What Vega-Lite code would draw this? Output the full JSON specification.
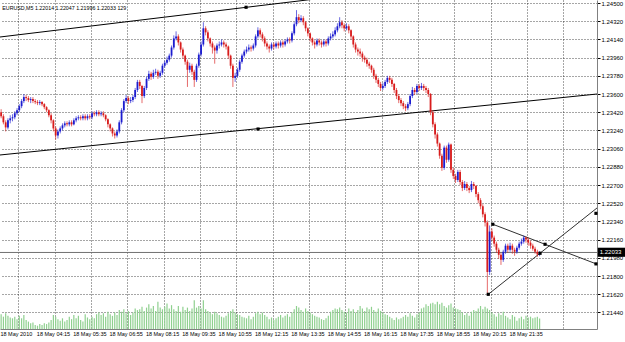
{
"$schema": "https://vega.github.io/schema/vega-lite/v6.json",
"width": 597, "height": 329,
"autosize": {"type": "none"},
"padding": {"left": 0, "top": 0, "right": 28, "bottom": 13},
"background": "white",
"config": {"view": {"stroke": null}, "font": "Liberation Sans", "axis": {"labelOverlap": false, "labelBound": false, "labelFlush": false}},
"datasets": {
"bars": [
{"i":0,"o":1.2342,"h":1.2345,"l":1.2336,"c":1.2338,"v":180},
{"i":1,"o":1.2338,"h":1.2340,"l":1.2330,"c":1.2332,"v":150},
{"i":2,"o":1.2332,"h":1.2334,"l":1.2323,"c":1.2327,"v":190},
{"i":3,"o":1.2327,"h":1.2336,"l":1.2325,"c":1.2334,"v":160},
{"i":4,"o":1.2334,"h":1.2339,"l":1.2331,"c":1.2336,"v":140},
{"i":5,"o":1.2336,"h":1.2340,"l":1.2333,"c":1.2337,"v":130},
{"i":6,"o":1.2337,"h":1.2343,"l":1.2335,"c":1.2341,"v":150},
{"i":7,"o":1.2341,"h":1.2346,"l":1.2339,"c":1.2344,"v":120},
{"i":8,"o":1.2344,"h":1.2350,"l":1.2342,"c":1.2348,"v":160},
{"i":9,"o":1.2348,"h":1.2355,"l":1.2346,"c":1.2353,"v":130},
{"i":10,"o":1.2353,"h":1.2360,"l":1.2351,"c":1.2357,"v":170},
{"i":11,"o":1.2357,"h":1.2359,"l":1.2353,"c":1.2356,"v":110},
{"i":12,"o":1.2356,"h":1.2358,"l":1.2352,"c":1.2354,"v":90},
{"i":13,"o":1.2354,"h":1.2357,"l":1.2351,"c":1.2355,"v":70},
{"i":14,"o":1.2355,"h":1.2357,"l":1.2351,"c":1.2353,"v":80},
{"i":15,"o":1.2353,"h":1.2355,"l":1.2350,"c":1.2352,"v":50},
{"i":16,"o":1.2352,"h":1.2354,"l":1.2349,"c":1.2351,"v":40},
{"i":17,"o":1.2351,"h":1.2354,"l":1.2349,"c":1.2352,"v":60},
{"i":18,"o":1.2352,"h":1.2353,"l":1.2348,"c":1.2350,"v":50},
{"i":19,"o":1.2350,"h":1.2351,"l":1.2345,"c":1.2347,"v":70},
{"i":20,"o":1.2347,"h":1.2348,"l":1.2342,"c":1.2344,"v":60},
{"i":21,"o":1.2344,"h":1.2345,"l":1.2337,"c":1.2339,"v":80},
{"i":22,"o":1.2339,"h":1.2341,"l":1.2331,"c":1.2334,"v":110},
{"i":23,"o":1.2334,"h":1.2335,"l":1.2323,"c":1.2326,"v":170},
{"i":24,"o":1.2326,"h":1.2328,"l":1.2315,"c":1.2319,"v":150},
{"i":25,"o":1.2319,"h":1.2325,"l":1.2316,"c":1.2323,"v":120},
{"i":26,"o":1.2323,"h":1.2328,"l":1.2321,"c":1.2326,"v":100},
{"i":27,"o":1.2326,"h":1.2331,"l":1.2324,"c":1.2329,"v":130},
{"i":28,"o":1.2329,"h":1.2333,"l":1.2327,"c":1.2331,"v":90},
{"i":29,"o":1.2331,"h":1.2333,"l":1.2328,"c":1.2330,"v":110},
{"i":30,"o":1.2330,"h":1.2334,"l":1.2328,"c":1.2332,"v":150},
{"i":31,"o":1.2332,"h":1.2334,"l":1.2328,"c":1.2330,"v":120},
{"i":32,"o":1.2330,"h":1.2336,"l":1.2329,"c":1.2334,"v":170},
{"i":33,"o":1.2334,"h":1.2338,"l":1.2332,"c":1.2336,"v":130},
{"i":34,"o":1.2336,"h":1.2339,"l":1.2334,"c":1.2337,"v":160},
{"i":35,"o":1.2337,"h":1.2339,"l":1.2334,"c":1.2336,"v":110},
{"i":36,"o":1.2336,"h":1.2340,"l":1.2334,"c":1.2338,"v":90},
{"i":37,"o":1.2338,"h":1.2340,"l":1.2334,"c":1.2336,"v":180},
{"i":38,"o":1.2336,"h":1.2340,"l":1.2334,"c":1.2338,"v":140},
{"i":39,"o":1.2338,"h":1.2340,"l":1.2335,"c":1.2337,"v":120},
{"i":40,"o":1.2337,"h":1.2343,"l":1.2335,"c":1.2341,"v":150},
{"i":41,"o":1.2341,"h":1.2343,"l":1.2338,"c":1.2340,"v":130},
{"i":42,"o":1.2340,"h":1.2344,"l":1.2338,"c":1.2342,"v":180},
{"i":43,"o":1.2342,"h":1.2344,"l":1.2338,"c":1.2340,"v":200},
{"i":44,"o":1.2340,"h":1.2343,"l":1.2338,"c":1.2341,"v":170},
{"i":45,"o":1.2341,"h":1.2343,"l":1.2337,"c":1.2339,"v":190},
{"i":46,"o":1.2339,"h":1.2340,"l":1.2333,"c":1.2335,"v":150},
{"i":47,"o":1.2335,"h":1.2336,"l":1.2327,"c":1.2330,"v":210},
{"i":48,"o":1.2330,"h":1.2331,"l":1.2323,"c":1.2326,"v":180},
{"i":49,"o":1.2326,"h":1.2327,"l":1.2318,"c":1.2321,"v":160},
{"i":50,"o":1.2321,"h":1.2323,"l":1.2316,"c":1.2319,"v":200},
{"i":51,"o":1.2319,"h":1.2325,"l":1.2317,"c":1.2323,"v":170},
{"i":52,"o":1.2323,"h":1.2334,"l":1.2321,"c":1.2332,"v":230},
{"i":53,"o":1.2332,"h":1.2346,"l":1.2330,"c":1.2344,"v":210},
{"i":54,"o":1.2344,"h":1.2355,"l":1.2342,"c":1.2353,"v":240},
{"i":55,"o":1.2353,"h":1.2359,"l":1.2351,"c":1.2356,"v":190},
{"i":56,"o":1.2356,"h":1.2358,"l":1.2350,"c":1.2353,"v":220},
{"i":57,"o":1.2353,"h":1.2357,"l":1.2351,"c":1.2354,"v":170},
{"i":58,"o":1.2354,"h":1.2359,"l":1.2352,"c":1.2357,"v":200},
{"i":59,"o":1.2357,"h":1.2366,"l":1.2355,"c":1.2364,"v":250},
{"i":60,"o":1.2364,"h":1.2374,"l":1.2362,"c":1.2372,"v":230},
{"i":61,"o":1.2372,"h":1.2374,"l":1.2365,"c":1.2368,"v":240},
{"i":62,"o":1.2368,"h":1.2369,"l":1.2351,"c":1.2358,"v":270},
{"i":63,"o":1.2358,"h":1.2368,"l":1.2356,"c":1.2366,"v":220},
{"i":64,"o":1.2366,"h":1.2377,"l":1.2364,"c":1.2375,"v":260},
{"i":65,"o":1.2375,"h":1.2383,"l":1.2373,"c":1.2380,"v":300},
{"i":66,"o":1.2380,"h":1.2382,"l":1.2374,"c":1.2377,"v":250},
{"i":67,"o":1.2377,"h":1.2384,"l":1.2375,"c":1.2381,"v":280},
{"i":68,"o":1.2381,"h":1.2385,"l":1.2379,"c":1.2382,"v":220},
{"i":69,"o":1.2382,"h":1.2384,"l":1.2375,"c":1.2378,"v":330},
{"i":70,"o":1.2378,"h":1.2383,"l":1.2376,"c":1.2381,"v":260},
{"i":71,"o":1.2381,"h":1.2390,"l":1.2379,"c":1.2388,"v":240},
{"i":72,"o":1.2388,"h":1.2393,"l":1.2386,"c":1.2391,"v":270},
{"i":73,"o":1.2391,"h":1.2397,"l":1.2389,"c":1.2394,"v":310},
{"i":74,"o":1.2394,"h":1.2400,"l":1.2392,"c":1.2398,"v":250},
{"i":75,"o":1.2398,"h":1.2408,"l":1.2396,"c":1.2406,"v":290},
{"i":76,"o":1.2406,"h":1.2418,"l":1.2404,"c":1.2415,"v":240},
{"i":77,"o":1.2415,"h":1.2422,"l":1.2413,"c":1.2417,"v":220},
{"i":78,"o":1.2417,"h":1.2419,"l":1.2408,"c":1.2411,"v":280},
{"i":79,"o":1.2411,"h":1.2412,"l":1.2401,"c":1.2404,"v":210},
{"i":80,"o":1.2404,"h":1.2406,"l":1.2395,"c":1.2398,"v":270},
{"i":81,"o":1.2398,"h":1.2399,"l":1.2389,"c":1.2392,"v":230},
{"i":82,"o":1.2392,"h":1.2394,"l":1.2367,"c":1.2384,"v":260},
{"i":83,"o":1.2384,"h":1.2391,"l":1.2381,"c":1.2388,"v":220},
{"i":84,"o":1.2388,"h":1.2390,"l":1.2379,"c":1.2382,"v":250},
{"i":85,"o":1.2382,"h":1.2384,"l":1.2367,"c":1.2374,"v":350},
{"i":86,"o":1.2374,"h":1.2390,"l":1.2372,"c":1.2388,"v":260},
{"i":87,"o":1.2388,"h":1.2401,"l":1.2386,"c":1.2399,"v":280},
{"i":88,"o":1.2399,"h":1.2412,"l":1.2397,"c":1.2409,"v":250},
{"i":89,"o":1.2409,"h":1.2431,"l":1.2407,"c":1.2425,"v":350},
{"i":90,"o":1.2425,"h":1.2427,"l":1.2418,"c":1.2421,"v":240},
{"i":91,"o":1.2421,"h":1.2423,"l":1.2412,"c":1.2415,"v":220},
{"i":92,"o":1.2415,"h":1.2416,"l":1.2407,"c":1.2410,"v":200},
{"i":93,"o":1.2410,"h":1.2412,"l":1.2400,"c":1.2406,"v":180},
{"i":94,"o":1.2406,"h":1.2408,"l":1.2390,"c":1.2403,"v":210},
{"i":95,"o":1.2403,"h":1.2410,"l":1.2400,"c":1.2408,"v":190},
{"i":96,"o":1.2408,"h":1.2412,"l":1.2405,"c":1.2409,"v":170},
{"i":97,"o":1.2409,"h":1.2414,"l":1.2407,"c":1.2411,"v":150},
{"i":98,"o":1.2411,"h":1.2413,"l":1.2406,"c":1.2409,"v":140},
{"i":99,"o":1.2409,"h":1.2411,"l":1.2404,"c":1.2407,"v":160},
{"i":100,"o":1.2407,"h":1.2408,"l":1.2395,"c":1.2398,"v":190},
{"i":101,"o":1.2398,"h":1.2399,"l":1.2385,"c":1.2388,"v":220},
{"i":102,"o":1.2388,"h":1.2390,"l":1.2367,"c":1.2376,"v":240},
{"i":103,"o":1.2376,"h":1.2381,"l":1.2372,"c":1.2378,"v":200},
{"i":104,"o":1.2378,"h":1.2386,"l":1.2376,"c":1.2384,"v":180},
{"i":105,"o":1.2384,"h":1.2394,"l":1.2382,"c":1.2392,"v":170},
{"i":106,"o":1.2392,"h":1.2400,"l":1.2390,"c":1.2398,"v":150},
{"i":107,"o":1.2398,"h":1.2404,"l":1.2396,"c":1.2402,"v":140},
{"i":108,"o":1.2402,"h":1.2407,"l":1.2400,"c":1.2404,"v":130},
{"i":109,"o":1.2404,"h":1.2409,"l":1.2402,"c":1.2406,"v":160},
{"i":110,"o":1.2406,"h":1.2408,"l":1.2402,"c":1.2405,"v":120},
{"i":111,"o":1.2405,"h":1.2410,"l":1.2403,"c":1.2408,"v":150},
{"i":112,"o":1.2408,"h":1.2419,"l":1.2406,"c":1.2417,"v":190},
{"i":113,"o":1.2417,"h":1.2426,"l":1.2415,"c":1.2423,"v":210},
{"i":114,"o":1.2423,"h":1.2425,"l":1.2416,"c":1.2419,"v":180},
{"i":115,"o":1.2419,"h":1.2421,"l":1.2412,"c":1.2415,"v":200},
{"i":116,"o":1.2415,"h":1.2417,"l":1.2407,"c":1.2410,"v":170},
{"i":117,"o":1.2410,"h":1.2412,"l":1.2404,"c":1.2407,"v":150},
{"i":118,"o":1.2407,"h":1.2409,"l":1.2401,"c":1.2405,"v":120},
{"i":119,"o":1.2405,"h":1.2411,"l":1.2403,"c":1.2409,"v":140},
{"i":120,"o":1.2409,"h":1.2411,"l":1.2404,"c":1.2407,"v":110},
{"i":121,"o":1.2407,"h":1.2412,"l":1.2405,"c":1.2410,"v":130},
{"i":122,"o":1.2410,"h":1.2412,"l":1.2405,"c":1.2408,"v":150},
{"i":123,"o":1.2408,"h":1.2413,"l":1.2406,"c":1.2411,"v":170},
{"i":124,"o":1.2411,"h":1.2413,"l":1.2406,"c":1.2409,"v":140},
{"i":125,"o":1.2409,"h":1.2414,"l":1.2407,"c":1.2412,"v":160},
{"i":126,"o":1.2412,"h":1.2416,"l":1.2410,"c":1.2414,"v":180},
{"i":127,"o":1.2414,"h":1.2416,"l":1.2410,"c":1.2413,"v":150},
{"i":128,"o":1.2413,"h":1.2422,"l":1.2411,"c":1.2420,"v":200},
{"i":129,"o":1.2420,"h":1.2431,"l":1.2418,"c":1.2429,"v":240},
{"i":130,"o":1.2429,"h":1.2443,"l":1.2427,"c":1.2436,"v":280},
{"i":131,"o":1.2436,"h":1.2439,"l":1.2430,"c":1.2433,"v":260},
{"i":132,"o":1.2433,"h":1.2438,"l":1.2431,"c":1.2435,"v":230},
{"i":133,"o":1.2435,"h":1.2437,"l":1.2428,"c":1.2431,"v":210},
{"i":134,"o":1.2431,"h":1.2432,"l":1.2422,"c":1.2425,"v":250},
{"i":135,"o":1.2425,"h":1.2426,"l":1.2417,"c":1.2420,"v":220},
{"i":136,"o":1.2420,"h":1.2421,"l":1.2412,"c":1.2415,"v":200},
{"i":137,"o":1.2415,"h":1.2416,"l":1.2408,"c":1.2411,"v":180},
{"i":138,"o":1.2411,"h":1.2413,"l":1.2405,"c":1.2409,"v":160},
{"i":139,"o":1.2409,"h":1.2415,"l":1.2407,"c":1.2413,"v":150},
{"i":140,"o":1.2413,"h":1.2415,"l":1.2408,"c":1.2411,"v":140},
{"i":141,"o":1.2411,"h":1.2413,"l":1.2406,"c":1.2409,"v":120},
{"i":142,"o":1.2409,"h":1.2414,"l":1.2407,"c":1.2412,"v":110},
{"i":143,"o":1.2412,"h":1.2414,"l":1.2407,"c":1.2410,"v":130},
{"i":144,"o":1.2410,"h":1.2417,"l":1.2408,"c":1.2415,"v":160},
{"i":145,"o":1.2415,"h":1.2420,"l":1.2413,"c":1.2417,"v":210},
{"i":146,"o":1.2417,"h":1.2422,"l":1.2415,"c":1.2419,"v":230},
{"i":147,"o":1.2419,"h":1.2426,"l":1.2417,"c":1.2423,"v":250},
{"i":148,"o":1.2423,"h":1.2430,"l":1.2421,"c":1.2427,"v":240},
{"i":149,"o":1.2427,"h":1.2436,"l":1.2425,"c":1.2431,"v":260},
{"i":150,"o":1.2431,"h":1.2433,"l":1.2425,"c":1.2428,"v":230},
{"i":151,"o":1.2428,"h":1.2430,"l":1.2422,"c":1.2425,"v":210},
{"i":152,"o":1.2425,"h":1.2430,"l":1.2423,"c":1.2427,"v":200},
{"i":153,"o":1.2427,"h":1.2429,"l":1.2420,"c":1.2423,"v":250},
{"i":154,"o":1.2423,"h":1.2424,"l":1.2414,"c":1.2417,"v":220},
{"i":155,"o":1.2417,"h":1.2418,"l":1.2406,"c":1.2409,"v":240},
{"i":156,"o":1.2409,"h":1.2411,"l":1.2401,"c":1.2404,"v":200},
{"i":157,"o":1.2404,"h":1.2406,"l":1.2398,"c":1.2402,"v":230},
{"i":158,"o":1.2402,"h":1.2405,"l":1.2397,"c":1.2400,"v":280},
{"i":159,"o":1.2400,"h":1.2402,"l":1.2392,"c":1.2396,"v":250},
{"i":160,"o":1.2396,"h":1.2398,"l":1.2391,"c":1.2394,"v":220},
{"i":161,"o":1.2394,"h":1.2396,"l":1.2387,"c":1.2390,"v":260},
{"i":162,"o":1.2390,"h":1.2392,"l":1.2385,"c":1.2388,"v":240},
{"i":163,"o":1.2388,"h":1.2389,"l":1.2381,"c":1.2384,"v":270},
{"i":164,"o":1.2384,"h":1.2386,"l":1.2375,"c":1.2378,"v":230},
{"i":165,"o":1.2378,"h":1.2380,"l":1.2371,"c":1.2374,"v":210},
{"i":166,"o":1.2374,"h":1.2376,"l":1.2367,"c":1.2370,"v":250},
{"i":167,"o":1.2370,"h":1.2372,"l":1.2363,"c":1.2366,"v":220},
{"i":168,"o":1.2366,"h":1.2371,"l":1.2364,"c":1.2368,"v":200},
{"i":169,"o":1.2368,"h":1.2374,"l":1.2366,"c":1.2372,"v":180},
{"i":170,"o":1.2372,"h":1.2378,"l":1.2370,"c":1.2376,"v":170},
{"i":171,"o":1.2376,"h":1.2378,"l":1.2371,"c":1.2374,"v":150},
{"i":172,"o":1.2374,"h":1.2376,"l":1.2367,"c":1.2370,"v":130},
{"i":173,"o":1.2370,"h":1.2371,"l":1.2361,"c":1.2364,"v":110},
{"i":174,"o":1.2364,"h":1.2366,"l":1.2355,"c":1.2358,"v":140},
{"i":175,"o":1.2358,"h":1.2360,"l":1.2351,"c":1.2354,"v":120},
{"i":176,"o":1.2354,"h":1.2356,"l":1.2348,"c":1.2351,"v":130},
{"i":177,"o":1.2351,"h":1.2353,"l":1.2345,"c":1.2348,"v":150},
{"i":178,"o":1.2348,"h":1.2350,"l":1.2343,"c":1.2346,"v":170},
{"i":179,"o":1.2346,"h":1.2352,"l":1.2344,"c":1.2350,"v":150},
{"i":180,"o":1.2350,"h":1.2360,"l":1.2348,"c":1.2358,"v":190},
{"i":181,"o":1.2358,"h":1.2367,"l":1.2356,"c":1.2364,"v":160},
{"i":182,"o":1.2364,"h":1.2366,"l":1.2359,"c":1.2362,"v":140},
{"i":183,"o":1.2362,"h":1.2370,"l":1.2360,"c":1.2368,"v":180},
{"i":184,"o":1.2368,"h":1.2370,"l":1.2363,"c":1.2366,"v":200},
{"i":185,"o":1.2366,"h":1.2371,"l":1.2364,"c":1.2368,"v":250},
{"i":186,"o":1.2368,"h":1.2370,"l":1.2363,"c":1.2366,"v":260},
{"i":187,"o":1.2366,"h":1.2368,"l":1.2361,"c":1.2364,"v":300},
{"i":188,"o":1.2364,"h":1.2366,"l":1.2357,"c":1.2360,"v":280},
{"i":189,"o":1.2360,"h":1.2361,"l":1.2339,"c":1.2342,"v":310},
{"i":190,"o":1.2342,"h":1.2344,"l":1.2327,"c":1.2330,"v":320},
{"i":191,"o":1.2330,"h":1.2332,"l":1.2316,"c":1.2320,"v":300},
{"i":192,"o":1.2320,"h":1.2322,"l":1.2308,"c":1.2311,"v":330},
{"i":193,"o":1.2311,"h":1.2312,"l":1.2296,"c":1.2299,"v":300},
{"i":194,"o":1.2299,"h":1.2301,"l":1.2284,"c":1.2287,"v":320},
{"i":195,"o":1.2287,"h":1.2309,"l":1.2285,"c":1.2307,"v":280},
{"i":196,"o":1.2307,"h":1.2309,"l":1.2292,"c":1.2295,"v":260},
{"i":197,"o":1.2295,"h":1.2312,"l":1.2293,"c":1.2310,"v":290},
{"i":198,"o":1.2310,"h":1.2311,"l":1.2282,"c":1.2285,"v":310},
{"i":199,"o":1.2285,"h":1.2287,"l":1.2276,"c":1.2279,"v":260},
{"i":200,"o":1.2279,"h":1.2281,"l":1.2272,"c":1.2275,"v":250},
{"i":201,"o":1.2275,"h":1.2285,"l":1.2273,"c":1.2283,"v":240},
{"i":202,"o":1.2283,"h":1.2285,"l":1.2270,"c":1.2273,"v":230},
{"i":203,"o":1.2273,"h":1.2275,"l":1.2264,"c":1.2267,"v":200},
{"i":204,"o":1.2267,"h":1.2274,"l":1.2265,"c":1.2271,"v":170},
{"i":205,"o":1.2271,"h":1.2273,"l":1.2264,"c":1.2267,"v":190},
{"i":206,"o":1.2267,"h":1.2269,"l":1.2262,"c":1.2265,"v":160},
{"i":207,"o":1.2265,"h":1.2274,"l":1.2263,"c":1.2271,"v":210},
{"i":208,"o":1.2271,"h":1.2273,"l":1.2266,"c":1.2269,"v":230},
{"i":209,"o":1.2269,"h":1.2270,"l":1.2258,"c":1.2261,"v":220},
{"i":210,"o":1.2261,"h":1.2263,"l":1.2252,"c":1.2255,"v":250},
{"i":211,"o":1.2255,"h":1.2257,"l":1.2246,"c":1.2249,"v":280},
{"i":212,"o":1.2249,"h":1.2251,"l":1.2238,"c":1.2241,"v":240},
{"i":213,"o":1.2241,"h":1.2243,"l":1.2229,"c":1.2233,"v":270},
{"i":214,"o":1.2233,"h":1.2235,"l":1.2163,"c":1.2184,"v":250},
{"i":215,"o":1.2184,"h":1.2230,"l":1.2181,"c":1.2224,"v":230},
{"i":216,"o":1.2224,"h":1.2227,"l":1.2215,"c":1.2218,"v":200},
{"i":217,"o":1.2218,"h":1.2220,"l":1.2209,"c":1.2212,"v":180},
{"i":218,"o":1.2212,"h":1.2214,"l":1.2203,"c":1.2206,"v":150},
{"i":219,"o":1.2206,"h":1.2208,"l":1.2197,"c":1.2201,"v":190},
{"i":220,"o":1.2201,"h":1.2203,"l":1.2191,"c":1.2196,"v":170},
{"i":221,"o":1.2196,"h":1.2206,"l":1.2194,"c":1.2204,"v":210},
{"i":222,"o":1.2204,"h":1.2212,"l":1.2202,"c":1.2210,"v":160},
{"i":223,"o":1.2210,"h":1.2212,"l":1.2203,"c":1.2206,"v":140},
{"i":224,"o":1.2206,"h":1.2213,"l":1.2204,"c":1.2210,"v":120},
{"i":225,"o":1.2210,"h":1.2212,"l":1.2202,"c":1.2206,"v":170},
{"i":226,"o":1.2206,"h":1.2208,"l":1.2200,"c":1.2204,"v":150},
{"i":227,"o":1.2204,"h":1.2210,"l":1.2202,"c":1.2208,"v":100},
{"i":228,"o":1.2208,"h":1.2214,"l":1.2206,"c":1.2212,"v":130},
{"i":229,"o":1.2212,"h":1.2217,"l":1.2210,"c":1.2214,"v":150},
{"i":230,"o":1.2214,"h":1.2220,"l":1.2212,"c":1.2218,"v":120},
{"i":231,"o":1.2218,"h":1.2219,"l":1.2213,"c":1.2216,"v":160},
{"i":232,"o":1.2216,"h":1.2218,"l":1.2210,"c":1.2213,"v":140},
{"i":233,"o":1.2213,"h":1.2215,"l":1.2207,"c":1.2210,"v":150},
{"i":234,"o":1.2210,"h":1.2212,"l":1.2205,"c":1.2207,"v":130},
{"i":235,"o":1.2207,"h":1.2209,"l":1.2202,"c":1.2204,"v":140},
{"i":236,"o":1.2204,"h":1.2206,"l":1.2199,"c":1.22014,"v":150},
{"i":237,"o":1.22014,"h":1.22047,"l":1.21996,"c":1.22033,"v":129}
],
"lines": [
{"name":"channel top","i":-0.5,"p":1.24164},
{"name":"channel top","i":262.26,"p":1.24876},
{"name":"channel bottom","i":-0.5,"p":1.22997},
{"name":"channel bottom","i":262.26,"p":1.23600},
{"name":"bid","i":-0.5,"p":1.22033},
{"name":"bid","i":262.26,"p":1.22033},
{"name":"triangle top","i":216.4,"p":1.22312},
{"name":"triangle top","i":262.26,"p":1.21917},
{"name":"triangle bottom","i":214.4,"p":1.21619},
{"name":"triangle bottom","i":262.26,"p":1.22473}
],
"anchors": [
{"i":107.8,"p":1.24458},
{"i":113.1,"p":1.23254},
{"i":216.4,"p":1.22312},
{"i":239.4,"p":1.22114},
{"i":214.4,"p":1.21619},
{"i":237.2,"p":1.22025},
{"i":261.8,"p":1.21920},
{"i":261.8,"p":1.22420}
],
"info": [
{"label":"EURUSD,M5  1.22014 1.22047 1.21996 1.22033  129","i":0.5,"p":1.24451}
],
"bid": [
{"label":"1.22033","i":262.6,"i1":274.6,"p0":1.22080,"p1":1.21990,"p":1.22033}
]
},
"layer": [
{
"data": {"name": "bars"},
"mark": {"type": "rule", "strokeWidth": 1.2, "color": "#8fd08f"},
"encoding": {
"x": {"field": "i", "type": "quantitative", "title": null, "scale": {"domain": [-0.5, 262.26], "nice": false, "zero": false},
 "axis": {"title": null, "tickCount": 100, "values": [7.5,23.5,39.5,55.5,71.5,87.5,103.5,119.5,135.5,151.5,167.5,183.5,199.5,215.5,231.5,247.5],
  "labelExpr": "['18 May 2010','18 May 04:15','18 May 05:35','18 May 06:55','18 May 08:15','18 May 09:35','18 May 10:55','18 May 12:15','18 May 13:35','18 May 14:55','18 May 16:15','18 May 17:35','18 May 18:55','18 May 20:15','18 May 21:35',''][round((datum.value-7.5)/16)]",
  "labelAlign": "left", "labelOffset": -18.2, "labelFontSize": 5.5, "labelColor": "#000", "labelPadding": 2,
  "labelBound": false, "labelOverlap": false, "labelFlush": false,
  "ticks": false, "domain": true, "domainColor": "#808080",
  "grid": true, "gridColor": "#000", "gridDash": [1, 2], "gridOpacity": 0.7, "gridWidth": 1}},
"y": {"field": "v", "type": "quantitative", "title": null, "scale": {"domain": [0, 4000], "nice": false}, "axis": null},
"y2": {"datum": 0}
}
},
{
"layer": [
{
"data": {"name": "lines"},
"mark": {"type": "line", "clip": true, "strokeWidth": 1},
"encoding": {
"x": {"field": "i", "type": "quantitative", "title": null, "scale": {"domain": [-0.5, 262.26], "nice": false, "zero": false}},
"y": {"field": "p", "type": "quantitative", "title": null, "scale": {"domain": [1.21276, 1.2453], "nice": false, "zero": false},
 "axis": {"title": null, "orient": "right", "tickCount": 100, "values": [1.2144,1.2162,1.218,1.2198,1.2216,1.2234,1.2252,1.227,1.2288,1.2306,1.2324,1.2342,1.236,1.2378,1.2396,1.2414,1.2432,1.245],
  "format": ".5f", "labelFontSize": 6, "labelColor": "#000", "labelPadding": 1, "tickSize": 3, "tickColor": "#000",
  "domainColor": "#808080", "labelBound": false, "labelOverlap": false, "labelFlush": false,
  "grid": true, "gridColor": "#000", "gridDash": [1, 2], "gridOpacity": 0.7, "gridWidth": 1}},
"detail": {"field": "name"},
"color": {"field": "name", "type": "nominal", "legend": null,
 "scale": {"domain": ["channel top","channel bottom","bid","triangle top","triangle bottom"], "range": ["#000000","#000000","#707070","#303030","#303030"]}}
}
},
{
"data": {"name": "bars"},
"mark": {"type": "rule", "strokeWidth": 1, "opacity": 0.65},
"encoding": {
"x": {"field": "i", "type": "quantitative", "title": null},
"y": {"field": "l", "type": "quantitative", "title": null},
"y2": {"field": "h"},
"color": {"condition": {"test": "datum.c >= datum.o", "value": "#1c1cd0"}, "value": "#d81c1c"}
}
},
{
"data": {"name": "bars"},
"mark": {"type": "rule", "strokeWidth": 1.8},
"encoding": {
"x": {"field": "i", "type": "quantitative", "title": null},
"y": {"field": "o", "type": "quantitative", "title": null},
"y2": {"field": "c"},
"color": {"condition": {"test": "datum.c >= datum.o", "value": "#1c1cd0"}, "value": "#d81c1c"}
}
},
{
"data": {"name": "anchors"},
"mark": {"type": "point", "shape": "square", "filled": true, "size": 10, "color": "#000", "opacity": 1},
"encoding": {
"x": {"field": "i", "type": "quantitative", "title": null},
"y": {"field": "p", "type": "quantitative", "title": null}
}
},
{
"data": {"name": "info"},
"mark": {"type": "text", "align": "left", "baseline": "middle", "fontSize": 5.3, "color": "#000"},
"encoding": {
"x": {"field": "i", "type": "quantitative", "title": null},
"y": {"field": "p", "type": "quantitative", "title": null},
"text": {"field": "label"}
}
},
{
"data": {"name": "bid"},
"mark": {"type": "rect", "color": "#000"},
"encoding": {
"x": {"field": "i", "type": "quantitative", "title": null},
"x2": {"field": "i1"},
"y": {"field": "p0", "type": "quantitative", "title": null},
"y2": {"field": "p1"}
}
},
{
"data": {"name": "bid"},
"mark": {"type": "text", "align": "left", "baseline": "middle", "fontSize": 6, "color": "#fff", "dx": 2},
"encoding": {
"x": {"field": "i", "type": "quantitative", "title": null},
"y": {"field": "p", "type": "quantitative", "title": null},
"text": {"field": "label"}
}
}
]
}
],
"resolve": {"scale": {"y": "independent"}}
}
